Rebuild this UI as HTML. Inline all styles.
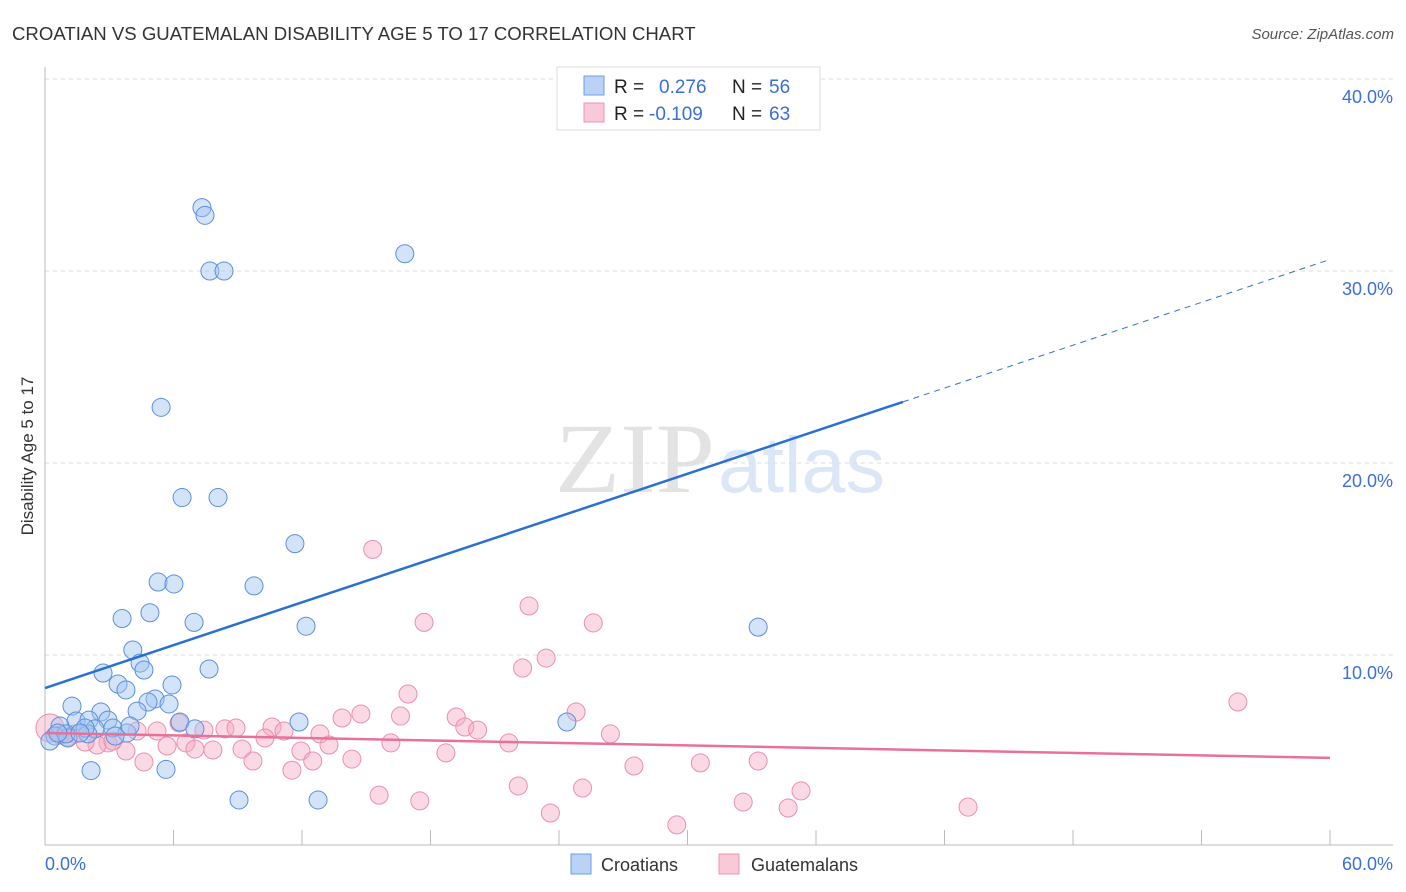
<!DOCTYPE html>
<html><head><meta charset="utf-8"><style>
body{margin:0;background:#fff;font-family:"Liberation Sans",sans-serif}
svg{display:block}
</style></head><body>
<svg id="c" width="1406" height="892" xmlns="http://www.w3.org/2000/svg">
<text x="12" y="40" font-size="18.6" fill="#333">CROATIAN VS GUATEMALAN DISABILITY AGE 5 TO 17 CORRELATION CHART</text>
<text x="1394" y="39" font-size="15" fill="#555" text-anchor="end" font-style="italic">Source: ZipAtlas.com</text>
<text x="555" y="492" font-size="100" fill="#e3e3e3" textLength="160" lengthAdjust="spacingAndGlyphs" font-family="Liberation Serif">ZIP</text>
<text x="718" y="492" font-size="79" fill="#dbe7f7" textLength="167" lengthAdjust="spacingAndGlyphs">atlas</text>
<g id="grid"></g>
<line x1="45" y1="67" x2="45" y2="845" stroke="#bbb"/>
<line x1="45" y1="845" x2="1393" y2="845" stroke="#bbb"/>
<text x="33" y="456" font-size="17" fill="#333" text-anchor="middle" transform="rotate(-90 33 456)">Disability Age 5 to 17</text>
<text x="45" y="870" font-size="18" fill="#3a6fd8">0.0%</text>
<text x="1393" y="870" font-size="18" fill="#3a6fd8" text-anchor="end">60.0%</text>
<g id="pts"></g>
<g id="lines"></g>
<g>
<rect x="557" y="67" width="263" height="63" fill="#fff" stroke="#ddd"/>
<rect x="584" y="76" width="20" height="19" fill="#b9d2f5" stroke="#6f9ee6"/>
<rect x="584" y="103" width="20" height="19" fill="#f9c9d7" stroke="#ee94b0"/>
<text x="614" y="93" font-size="19" fill="#222">R =</text>
<text x="659" y="93" font-size="19" fill="#3a6fd8">0.276</text>
<text x="732" y="93" font-size="19" fill="#222">N =</text>
<text x="769" y="93" font-size="19" fill="#3a6fd8">56</text>
<text x="614" y="120" font-size="19" fill="#222">R =</text>
<text x="649" y="120" font-size="19" fill="#3a6fd8">-0.109</text>
<text x="732" y="120" font-size="19" fill="#222">N =</text>
<text x="769" y="120" font-size="19" fill="#3a6fd8">63</text>
</g>
<g>
<rect x="571" y="854" width="20" height="20" fill="#b9d2f5" stroke="#6f9ee6"/>
<text x="601" y="871" font-size="18" fill="#333">Croatians</text>
<rect x="719" y="854" width="20" height="20" fill="#f9c9d7" stroke="#ee94b0"/>
<text x="751" y="871" font-size="18" fill="#333">Guatemalans</text>
</g>
</svg>
<script>
const yTicks=[10,20,30,40];
const yTickLabels=["10.0%","20.0%","30.0%","40.0%"];
const xTicks=[0,6,12,18,24,30,36,42,48,54,60];
const croX=[7.33,7.47,7.7,8.36,16.8,5.42,6.4,8.08,11.67,5.28,6.02,9.76,3.6,4.9,6.96,12.19,33.3,4.1,4.44,4.62,7.66,2.71,3.41,3.78,5.93,5.14,4.81,5.79,1.26,2.61,4.3,6.3,1.45,2.05,2.94,7.0,11.86,24.37,0.7,2.33,3.17,3.83,0.47,1.07,0.23,0.98,2.0,3.27,2.15,5.65,9.06,12.75,1.87,0.6,1.63,3.97];
const croY=[33.3,32.9,30.0,30.0,30.9,22.9,18.2,18.2,15.8,13.8,13.7,13.6,11.9,12.2,11.7,11.5,11.45,10.26,9.58,9.22,9.27,9.06,8.49,8.18,8.44,7.71,7.55,7.45,7.34,7.03,7.08,6.51,6.56,6.61,6.61,6.15,6.51,6.51,6.3,6.15,6.2,5.94,5.78,5.68,5.52,5.89,5.89,5.78,3.98,4.04,2.45,2.45,6.2,5.94,5.94,6.3];
const guaX=[15.3,22.6,17.7,25.6,23.4,22.3,16.95,55.7,24.8,14.75,13.87,16.6,19.2,19.6,20.2,6.26,7.42,8.4,8.92,10.6,11.16,12.84,5.23,4.3,26.4,10.27,6.58,7.84,9.2,5.7,7.0,13.26,11.95,16.15,21.66,18.72,3.78,2.94,2.43,4.62,9.71,12.5,14.33,11.53,27.5,30.6,33.3,22.1,25.1,35.3,15.6,17.5,32.6,34.7,43.1,23.6,29.5,0.23,0.7,1.4,1.87,3.17,1.07];
const guaY=[15.5,12.55,11.7,11.67,9.84,9.32,7.97,7.55,7.03,6.93,6.72,6.82,6.77,6.25,6.09,6.46,6.09,6.15,6.2,6.25,6.04,5.89,6.04,6.04,5.89,5.68,5.42,5.05,5.1,5.26,5.1,5.31,5.0,5.42,5.42,4.9,5.0,5.42,5.31,4.43,4.48,4.48,4.58,4.0,4.22,4.38,4.48,3.18,3.07,2.92,2.7,2.4,2.34,2.03,2.08,1.77,1.15,6.2,5.83,5.89,5.47,5.52,5.73];
const croTrend=[8.28,30.6];
const guaTrend=[5.94,4.64];
const croSolidEnd=40.06;
const X=v=>45+v/60*1285, Y=v=>847-v*19.2;
const NS="http://www.w3.org/2000/svg";
function mk(t,a,p){const e=document.createElementNS(NS,t);for(const k in a)e.setAttribute(k,a[k]);p.appendChild(e);return e;}
const grid=document.getElementById('grid');
yTicks.forEach((t,i)=>{
 const l=mk('line',{x1:45,x2:1393,y1:Y(t),y2:Y(t),stroke:'#ddd','stroke-dasharray':'4,4'},grid);
 
 
 const tx=mk('text',{x:1393,y:Y(t)+24,'font-size':18,fill:'#3a6fd8','text-anchor':'end'},grid);
 tx.textContent=yTickLabels[i];
 
 
});
xTicks.forEach(t=>{
 const l=mk('line',{x1:X(t),x2:X(t),y1:830,y2:845,stroke:'#bbb'},grid);
 
 
});
const pts=document.getElementById('pts');
guaX.forEach((x,i)=>{
 const c=mk('circle',{cx:X(x),cy:Y(guaY[i]),r:i==57?14:9,fill:'rgba(245,170,195,0.45)',stroke:'#ea8fae','stroke-width':1},pts);
 
 
});
croX.forEach((x,i)=>{
 const c=mk('circle',{cx:X(x),cy:Y(croY[i]),r:9,fill:'rgba(160,195,240,0.45)',stroke:'#5b8fdd','stroke-width':1},pts);
 
 
});
const lines=document.getElementById('lines');
const cy=x=>croTrend[0]+(croTrend[1]-croTrend[0])*x/60;
let l1=mk('line',{x1:X(0),y1:Y(cy(0)),x2:X(croSolidEnd),y2:Y(cy(croSolidEnd)),stroke:'#2a6fd6','stroke-width':2.5},lines);


let l2=mk('line',{x1:X(croSolidEnd),y1:Y(cy(croSolidEnd)),x2:X(60),y2:Y(cy(60)),stroke:'#2a6fd6','stroke-width':1,'stroke-dasharray':'6,5'},lines);


let l3=mk('line',{x1:X(0),y1:Y(guaTrend[0]),x2:X(60),y2:Y(guaTrend[1]),stroke:'#e8719a','stroke-width':2.5},lines);


</script>
</body></html>
